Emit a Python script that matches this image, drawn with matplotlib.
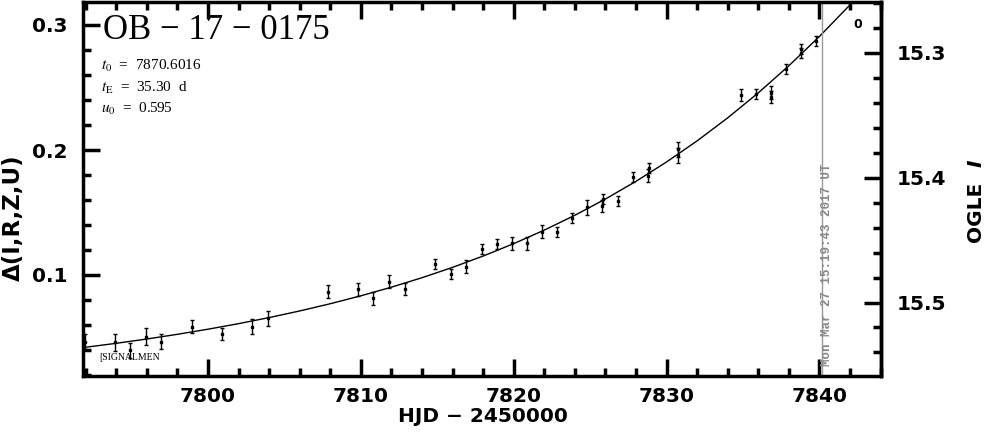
import matplotlib
matplotlib.use('Agg')
import matplotlib.pyplot as plt
from matplotlib.ticker import MultipleLocator, FixedLocator, FormatStrFormatter

plt.rcParams['font.family'] = ['DejaVu Sans']
plt.rcParams['mathtext.fontset'] = 'stix'

# OGLE photometry (HJD - 2450000, delta mag, error)
hjd = [7791.96, 7793.92, 7794.90, 7795.93, 7796.90, 7798.93, 7800.90, 7802.86, 7803.90,
       7807.87, 7809.83, 7810.81, 7811.86, 7812.88, 7814.85, 7815.87, 7816.87, 7817.90,
       7818.88, 7819.86, 7820.84, 7821.82, 7822.85, 7823.83, 7824.81, 7825.79, 7825.85,
       7826.83, 7827.82, 7828.80, 7828.86, 7830.76, 7830.78, 7834.84, 7835.82, 7836.82,
       7836.84, 7837.80, 7838.78, 7838.80, 7839.81]
delta = [0.0467, 0.0462, 0.0400, 0.0507, 0.0467, 0.0587, 0.0528, 0.0587, 0.0653,
         0.0867, 0.0885, 0.0813, 0.0947, 0.0888, 0.1088, 0.1008, 0.1067, 0.1205,
         0.1245, 0.1253, 0.1253, 0.1347, 0.1341, 0.1459, 0.1541, 0.1552, 0.1605,
         0.1595, 0.1781, 0.1795, 0.1853, 0.2005, 0.1960, 0.2440, 0.2446, 0.2460,
         0.2425, 0.2645, 0.2810, 0.2780, 0.2875]
err = [0.006, 0.007, 0.006, 0.007, 0.006, 0.005, 0.005, 0.006, 0.006, 0.005,
       0.005, 0.005, 0.005, 0.005, 0.004, 0.004, 0.005, 0.004, 0.004, 0.005,
       0.005, 0.005, 0.004, 0.004, 0.006, 0.005, 0.004, 0.004, 0.004, 0.005,
       0.004, 0.006, 0.006, 0.005, 0.004, 0.005, 0.005, 0.004, 0.004, 0.004, 0.004]

# model light curve
model_t = [7790, 7792, 7794, 7796, 7798, 7800, 7802, 7804, 7806, 7808, 7810, 7812, 7814, 7816,
           7818, 7820, 7822, 7824, 7826, 7828, 7830, 7832, 7834, 7836, 7838, 7840, 7842, 7844]
model_delta = [0.03931, 0.04221, 0.04536, 0.04881, 0.05256, 0.05664, 0.06108, 0.06594, 0.07124,
               0.07703, 0.08335, 0.09027, 0.09783, 0.10611, 0.11516, 0.12508, 0.13592, 0.14779,
               0.16076, 0.17494, 0.19042, 0.20731, 0.22571, 0.24570, 0.26738, 0.29082, 0.31607,
               0.34314]

event = 'OB \u2212 17 \u2212 0175'
params = [r'$t_0$  =  7870.6016', r'$t_{\rm E}$  =  35.30  d', r'$u_0$  =  0.595']
now_hjd = 7840.14
now_text = 'Mon Mar 27 15:19:43 2017 UT'
base_mag = 15.578
mag_major = [15.3, 15.4, 15.5]
mag_minor = [15.26, 15.28, 15.32, 15.34, 15.36, 15.38, 15.42, 15.44, 15.46, 15.48, 15.52, 15.54]

fig = plt.figure(figsize=(9.85, 4.34), dpi=100)
ax = fig.add_axes([83 / 985, 1 - 376 / 434, 798 / 985, 374 / 434])

ax.plot(model_t, model_delta, color='black', linewidth=1.0)
ax.errorbar(hjd, delta, yerr=err, fmt='s', color='black', markersize=1.8,
            elinewidth=1.0, capsize=1.6, capthick=1.0)

ax.axvline(now_hjd, color='#999999', linewidth=1.0)
ax.text(now_hjd + 0.37, 0.027, now_text, transform=ax.get_xaxis_transform(),
        rotation=90, ha='center', va='bottom', color='#888888',
        family='Liberation Mono', fontsize=9, fontweight='bold')

ax.set_xlim(7791.82, 7844.03)
ax.set_ylim(0.0192, 0.3184)

ax.xaxis.set_major_locator(MultipleLocator(10))
ax.xaxis.set_minor_locator(MultipleLocator(2))
ax.yaxis.set_major_locator(MultipleLocator(0.1))
ax.yaxis.set_minor_locator(MultipleLocator(0.02))
ax.xaxis.set_major_formatter(FormatStrFormatter('%d'))
ax.yaxis.set_major_formatter(FormatStrFormatter('%.1f'))

ax.tick_params(which='both', direction='in', top=True, right=False, width=2.5)
ax.tick_params(which='major', length=12, labelsize=14.5)
ax.tick_params(which='minor', length=6)
ax.tick_params(axis='x', pad=8)
ax.tick_params(axis='y', pad=11)
for lab in ax.get_xticklabels() + ax.get_yticklabels():
    lab.set_fontweight('bold')
for sp in ax.spines.values():
    sp.set_linewidth(2.5)

sec = ax.secondary_yaxis('right', functions=(lambda d: base_mag - d, lambda m: base_mag - m))
sec.yaxis.set_major_locator(FixedLocator(mag_major))
sec.yaxis.set_minor_locator(FixedLocator(mag_minor))
sec.yaxis.set_major_formatter(FormatStrFormatter('%.1f'))
sec.tick_params(which='both', direction='in', width=2.5)
sec.tick_params(which='major', length=12, labelsize=14.5, pad=11)
sec.tick_params(which='minor', length=6)
for lab in sec.get_yticklabels():
    lab.set_fontweight('bold')
sec.spines['right'].set_linewidth(2.5)

# title and event parameters
ax.text(0.025, 1 - 37 / 374, event, transform=ax.transAxes,
        family='Liberation Serif', fontsize=25, va='baseline', ha='left')
for i, p in enumerate(params):
    ax.text(0.0226, 1 - (68 + 21.5 * i) / 374, p, transform=ax.transAxes,
            family='Liberation Serif', fontsize=11, va='baseline', ha='left')

ax.text(0.0206, 1 - 358 / 374, '[SIGNALMEN', transform=ax.transAxes,
        family='Liberation Serif', fontsize=7, va='baseline', ha='left')
ax.text(1 - 23 / 798, 1 - 22 / 374, '0', transform=ax.transAxes,
        fontsize=9, fontweight='bold', ha='center', va='center')

# axis labels
fig.text(483 / 985, 1 - 417 / 434, 'HJD \u2212 2450000', ha='center', va='center',
         fontsize=14.5, fontweight='bold')
fig.text(13 / 985, 1 - 218 / 434, '\u0394(I,R,Z,U)', ha='center', va='center',
         rotation=90, fontsize=16.5, fontweight='bold')
fig.text(976 / 985, 1 - 212 / 434, 'OGLE', ha='center', va='center',
         rotation=90, fontsize=14.5, fontweight='bold')
fig.text(976 / 985, 1 - 163 / 434, 'I', ha='center', va='center',
         rotation=90, fontsize=14.5, fontweight='bold', style='italic')

fig.savefig('out.png', dpi=100)
